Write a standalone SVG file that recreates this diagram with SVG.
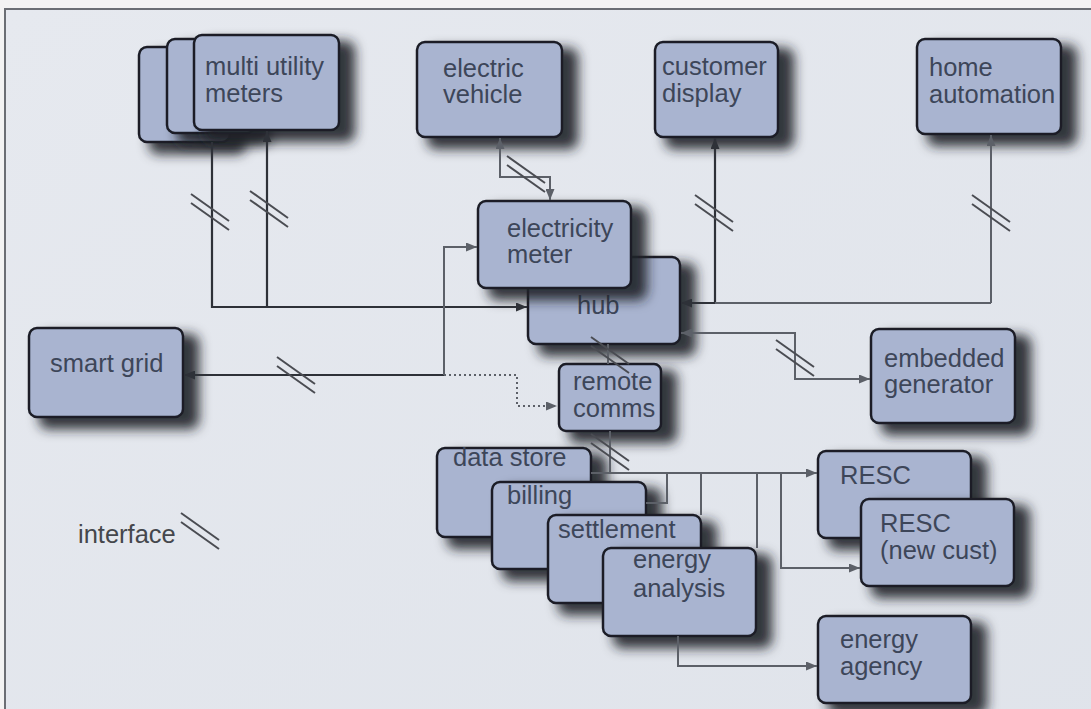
<svg xmlns="http://www.w3.org/2000/svg" width="1091" height="709" viewBox="0 0 1091 709">
<defs>
<linearGradient id="bg" x1="0" y1="0" x2="1" y2="1">
<stop offset="0" stop-color="#e6e9ef"/>
<stop offset="1" stop-color="#dfe3ea"/>
</linearGradient>
<filter id="sh" x="-30%" y="-30%" width="170%" height="180%">
<feMorphology in="SourceAlpha" operator="dilate" radius="2"/>
<feGaussianBlur stdDeviation="6"/>
<feOffset dx="13" dy="9" result="b"/>
<feFlood flood-color="#1f2228" flood-opacity="0.9"/>
<feComposite in2="b" operator="in"/>
<feMerge><feMergeNode/><feMergeNode in="SourceGraphic"/></feMerge>
</filter>
<marker id="ad" viewBox="0 0 11 9" refX="11" refY="4.5" markerWidth="11" markerHeight="9" markerUnits="userSpaceOnUse" orient="auto-start-reverse"><path d="M0,0 L11,4.5 L0,9 z" fill="#2e3138"/></marker>
<marker id="ag" viewBox="0 0 11 9" refX="11" refY="4.5" markerWidth="11" markerHeight="9" markerUnits="userSpaceOnUse" orient="auto-start-reverse"><path d="M0,0 L11,4.5 L0,9 z" fill="#5c6068"/></marker>
<g id="slash"><line x1="-19" y1="-18" x2="19" y2="9"/><line x1="-19" y1="-9" x2="19" y2="18"/></g>
</defs>
<style>
.box{fill:#a9b4d0;stroke:#1b1f28;stroke-width:2.5}
.n{filter:url(#sh)}
.t{font-family:"Liberation Sans",Arial,sans-serif;font-size:25.5px;fill:#3d4659}
.dk{fill:none;stroke:#2e3138;stroke-width:2.2}
.gr{fill:none;stroke:#5c6068;stroke-width:2}
.sl{stroke:#4a4c52;stroke-width:2}
</style>
<rect x="0" y="0" width="1091" height="709" fill="#f3f3f3"/>
<rect x="5" y="9" width="1200" height="800" fill="url(#bg)" stroke="#6b6e74" stroke-width="2"/>

<g id="nodes">
<g id="multi-utility-meters">
<rect class="box n" x="139" y="47" width="91" height="95" rx="8"/>
<rect class="box n" x="167" y="39" width="88" height="94" rx="8"/>
<rect class="box n" x="194" y="35" width="145" height="95" rx="8"/>
<text class="t" x="205" y="75">multi utility</text>
<text class="t" x="205" y="102">meters</text>
</g>
<g id="electric-vehicle">
<rect class="box n" x="417" y="42" width="145" height="95" rx="8"/>
<text class="t" x="443" y="77">electric</text>
<text class="t" x="443" y="103">vehicle</text>
</g>
<g id="customer-display">
<rect class="box n" x="655" y="42" width="123" height="95" rx="8"/>
<text class="t" x="662" y="75">customer</text>
<text class="t" x="662" y="102">display</text>
</g>
<g id="home-automation">
<rect class="box n" x="917" y="39" width="144" height="95" rx="8"/>
<text class="t" x="929" y="76">home</text>
<text class="t" x="929" y="103">automation</text>
</g>
<g id="hub">
<rect class="box n" x="528" y="257" width="152" height="87" rx="8"/>
<text class="t" x="577" y="314">hub</text>
</g>
<g id="electricity-meter">
<rect class="box n" x="478" y="201" width="153" height="87" rx="8"/>
<text class="t" x="507" y="237">electricity</text>
<text class="t" x="507" y="263">meter</text>
</g>
<g id="smart-grid">
<rect class="box n" x="29" y="328" width="154" height="89" rx="8"/>
<text class="t" x="50" y="372">smart grid</text>
</g>
<g id="embedded-generator">
<rect class="box n" x="871" y="329" width="144" height="94" rx="8"/>
<text class="t" x="884" y="367">embedded</text>
<text class="t" x="884" y="393">generator</text>
</g>
<g id="remote-comms">
<rect class="box n" x="559" y="364" width="102" height="67" rx="7"/>
<text class="t" x="573" y="390">remote</text>
<text class="t" x="573" y="417">comms</text>
</g>
<g id="data-store">
<rect class="box n" x="437" y="448" width="154" height="89" rx="8"/>
<text class="t" x="453" y="466">data store</text>
</g>
<g id="billing">
<rect class="box n" x="492" y="482" width="154" height="87" rx="8"/>
<text class="t" x="507" y="504">billing</text>
</g>
<g id="settlement">
<rect class="box n" x="548" y="515" width="153" height="88" rx="8"/>
<text class="t" x="558" y="538">settlement</text>
</g>
<g id="energy-analysis">
<rect class="box n" x="603" y="548" width="153" height="88" rx="8"/>
<text class="t" x="633" y="568">energy</text>
<text class="t" x="633" y="597">analysis</text>
</g>
<g id="resc">
<rect class="box n" x="818" y="451" width="153" height="87" rx="8"/>
<text class="t" x="840" y="484">RESC</text>
</g>
<g id="resc-new-cust">
<rect class="box n" x="861" y="499" width="153" height="87" rx="8"/>
<text class="t" x="880" y="532">RESC</text>
<text class="t" x="880" y="559">(new cust)</text>
</g>
<g id="energy-agency">
<rect class="box n" x="818" y="616" width="153" height="87" rx="8"/>
<text class="t" x="840" y="648">energy</text>
<text class="t" x="840" y="675">agency</text>
</g>
</g>

<g id="connectors">
<path class="dk" d="M212,142 V307 H527" marker-end="url(#ad)"/>
<path class="dk" d="M267,307 V131" marker-end="url(#ad)"/>
<path class="dk" d="M444,375 H184" marker-end="url(#ad)"/>
<path class="gr" d="M444,375 V247 H477" marker-end="url(#ag)"/>
<path class="dk" d="M715,303 V138" marker-end="url(#ad)"/>
<path class="dk" d="M715,303 H681" stroke-width="3" marker-end="url(#ad)"/>
<path class="gr" d="M991,303 V135" marker-end="url(#ag)"/>
<path class="gr" d="M991,303 H715"/>
<path class="gr" d="M550,200 V177 H500 V138" marker-start="url(#ag)" marker-end="url(#ag)"/>
<path class="gr" d="M870,379 H795 V333 H681" marker-start="url(#ag)" marker-end="url(#ag)"/>
<path class="gr" d="M608,344 V364"/>
<path class="gr" d="M610,431 V473"/>
<path class="gr" d="M591,473 H817" marker-end="url(#ag)"/>
<path class="gr" d="M646,503 H667 V473"/>
<path class="gr" d="M701,515 V473"/>
<path class="gr" d="M757,548 V473"/>
<path class="gr" d="M781,473 V568 H860" marker-end="url(#ag)"/>
<path class="gr" d="M678,636 V666 H817" marker-end="url(#ag)"/>
<path class="gr" d="M444,375 H517 V406 H557" stroke-dasharray="2 3" marker-end="url(#ag)"/>
</g>

<g id="interfaces" class="sl">
<use href="#slash" x="210" y="212"/>
<use href="#slash" x="269" y="209"/>
<use href="#slash" x="714" y="213"/>
<use href="#slash" x="991" y="213"/>
<use href="#slash" x="296" y="375"/>
<use href="#slash" x="795" y="358"/>
<use href="#slash" x="610" y="355"/>
<use href="#slash" x="610" y="452"/>
<use href="#slash" x="526" y="174"/>
</g>

<g id="legend">
<text class="t" x="78" y="543" style="fill:#45474c">interface</text>
<use href="#slash" x="200" y="531" class="sl"/>
</g>
</svg>
